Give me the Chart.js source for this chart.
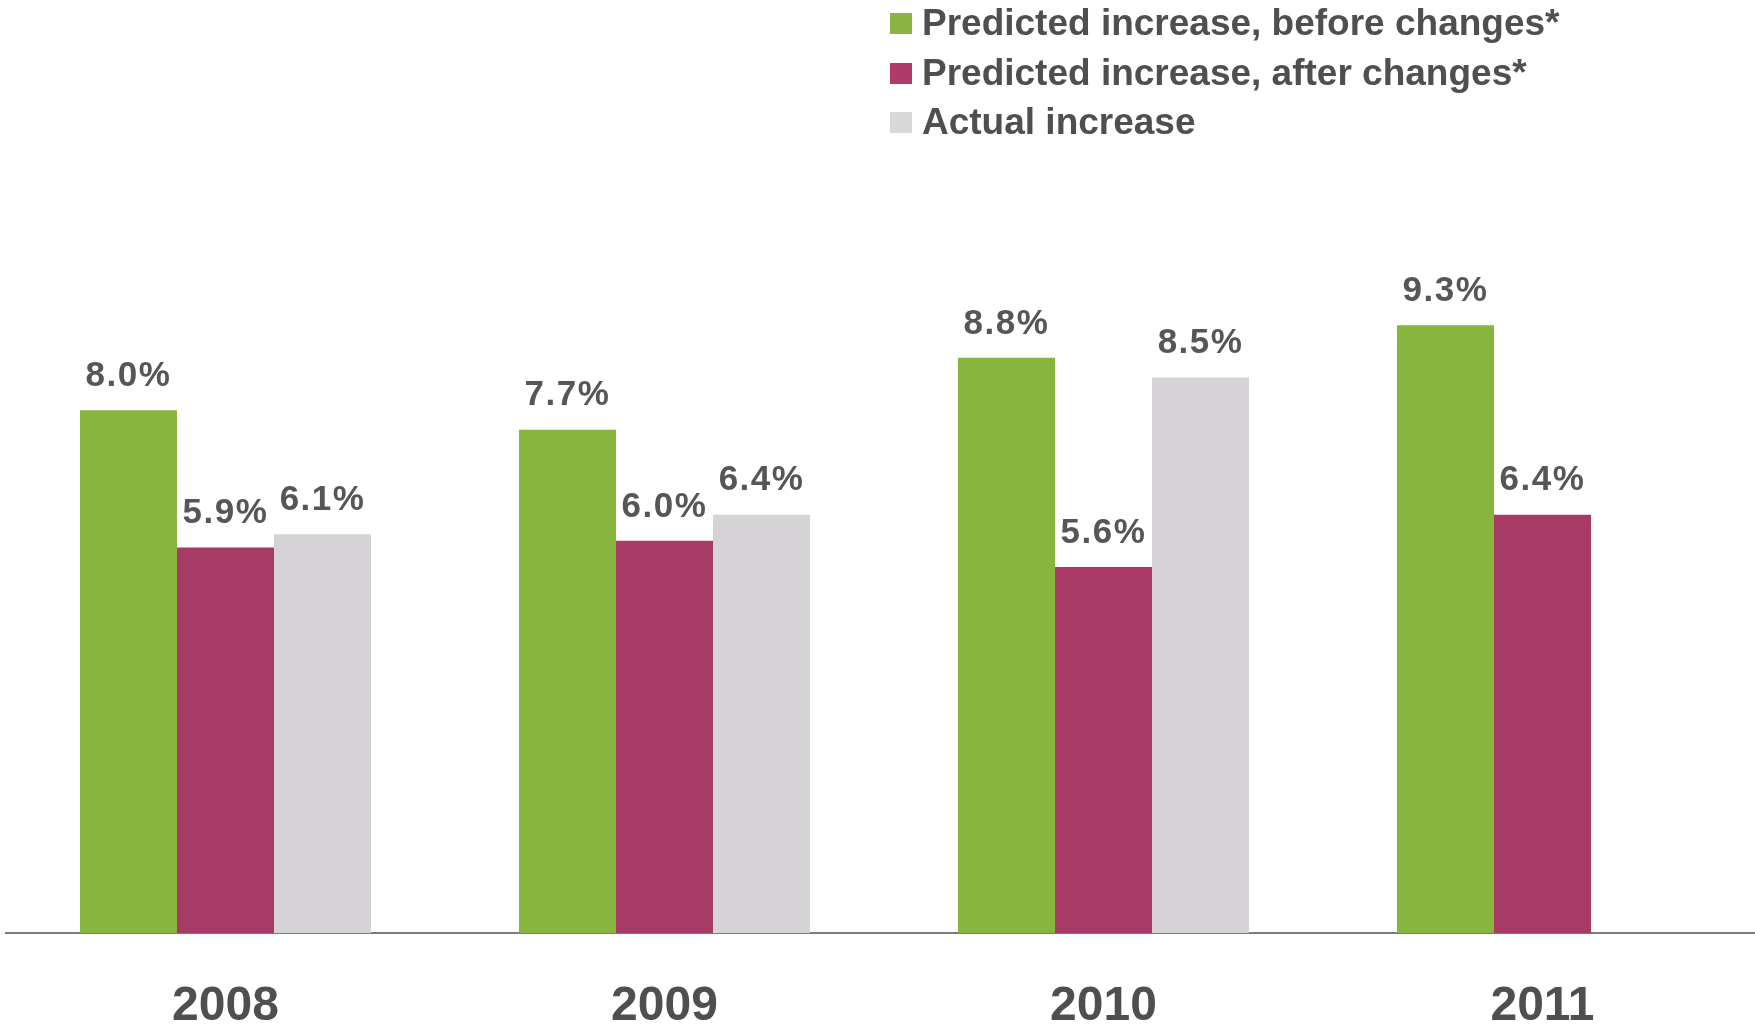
<!DOCTYPE html>
<html>
<head>
<meta charset="utf-8">
<script src="https://cdn.jsdelivr.net/npm/chart.js@4/dist/chart.umd.min.js"></script>
<style>
  html, body { margin: 0; padding: 0; background: #ffffff; overflow: hidden; }
  #wrap { position: absolute; left: 0; top: 0; width: 1765px; height: 1024px; }
</style>
</head>
<body>
<div id="wrap"><canvas id="c"></canvas></div>
<script>
const categories = ['2008', '2009', '2010', '2011'];
const seriesLabels = [
  'Predicted increase, before changes*',
  'Predicted increase, after changes*',
  'Actual increase'
];
const beforeChanges = [8.0, 7.7, 8.8, 9.3];
const afterChanges = [5.9, 6.0, 5.6, 6.4];
const actualIncrease = [6.1, 6.4, 8.5, null];
const seriesColors = ['#88b53e', '#a83a66', '#d5d3d5'];
const legendSwatchColors = ['#8ab545', '#b03a6a', '#d8d8d8'];

const valueLabels = {
  id: 'valueLabels',
  afterDatasetsDraw(chart) {
    const ctx = chart.ctx;
    ctx.save();
    ctx.font = 'bold 35px "Liberation Sans", Arial, sans-serif';
    ctx.fillStyle = '#565656';
    ctx.textAlign = 'center';
    ctx.textBaseline = 'middle';
    try { ctx.letterSpacing = '1.5px'; } catch (e) {}
    chart.data.datasets.forEach((ds, di) => {
      const meta = chart.getDatasetMeta(di);
      meta.data.forEach((bar, i) => {
        const v = ds.data[i];
        if (v === null || v === undefined) return;
        ctx.fillText(v.toFixed(1) + '%', bar.x, bar.y - 34);
      });
    });
    ctx.restore();
  }
};

const sideLegend = {
  id: 'sideLegend',
  afterDraw(chart) {
    const ctx = chart.ctx;
    ctx.save();
    ctx.font = 'bold 37px "Liberation Sans", Arial, sans-serif';
    ctx.textAlign = 'left';
    ctx.textBaseline = 'middle';
    const rowsY = [24, 74, 123];
    chart.data.datasets.forEach((ds, i) => {
      const y = rowsY[i];
      ctx.fillStyle = legendSwatchColors[i];
      ctx.fillRect(890, y - 11, 22, 21);
      ctx.fillStyle = '#4f4f4f';
      ctx.fillText(ds.label, 922, y + 1);
    });
    ctx.restore();
  }
};

new Chart(document.getElementById('c'), {
  type: 'bar',
  data: {
    labels: categories,
    datasets: [
      { label: seriesLabels[0], data: beforeChanges, backgroundColor: seriesColors[0] },
      { label: seriesLabels[1], data: afterChanges, backgroundColor: seriesColors[1] },
      { label: seriesLabels[2], data: actualIncrease, backgroundColor: seriesColors[2] }
    ]
  },
  options: {
    responsive: true,
    maintainAspectRatio: false,
    animation: false,
    layout: { padding: { left: 6, right: 3, top: 18, bottom: 0 } },
    plugins: {
      legend: { display: false },
      tooltip: { enabled: false }
    },
    datasets: {
      bar: { categoryPercentage: 0.663, barPercentage: 1.0 }
    },
    scales: {
      x: {
        grid: { display: false, drawTicks: false },
        border: { display: true, color: '#7a7a7a', width: 2 },
        ticks: {
          color: '#4f4f4f',
          padding: 45,
          font: { family: '"Liberation Sans", Arial, sans-serif', size: 48, weight: 'bold' }
        },
        afterFit(scale) { scale.height = 91; }
      },
      y: {
        display: false,
        min: 0,
        max: 14
      }
    }
  },
  plugins: [valueLabels, sideLegend]
});
</script>
</body>
</html>
